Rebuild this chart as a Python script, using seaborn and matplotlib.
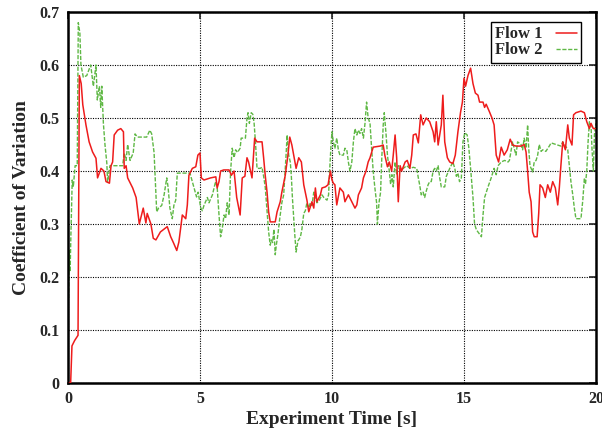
import numpy as np
import pandas as pd
import matplotlib
matplotlib.use("Agg")
import matplotlib.pyplot as plt
import seaborn as sns

flow1_t = [0.05,0.1,0.15,0.25,0.38,0.43,0.5,0.56,0.68,0.8,0.93,1.06,1.12,1.25,1.36,1.44,1.57,1.63,1.69,1.75,1.88,2.0,2.1,2.13,2.2,2.26,2.45,2.58,2.7,2.85,2.95,3.0,3.14,3.23,3.33,3.5,3.76,3.89,4.0,4.12,4.2,4.33,4.46,4.52,4.58,4.71,4.84,4.92,5.0,5.05,5.15,5.4,5.6,5.65,5.72,5.78,5.9,6.1,6.19,6.29,6.39,6.52,6.6,6.7,6.78,6.84,6.97,7.07,7.16,7.35,7.41,7.47,7.54,7.6,7.66,7.85,7.92,8.04,8.1,8.23,8.33,8.4,8.48,8.55,8.64,8.74,8.84,8.93,9.05,9.12,9.24,9.31,9.37,9.43,9.56,9.62,9.75,9.85,9.94,10.0,10.05,10.11,10.18,10.3,10.43,10.49,10.62,10.75,10.87,10.94,11.0,11.12,11.19,11.29,11.37,11.44,11.56,11.82,11.94,12.0,12.1,12.17,12.26,12.32,12.39,12.45,12.51,12.58,12.64,12.77,12.85,12.95,13.02,13.08,13.18,13.27,13.36,13.45,13.57,13.7,13.83,13.89,13.95,14.02,14.14,14.2,14.27,14.37,14.46,14.58,14.67,14.77,14.87,14.94,15.0,15.06,15.15,15.25,15.34,15.43,15.53,15.59,15.72,15.78,15.84,15.97,16.06,16.14,16.22,16.31,16.41,16.52,16.64,16.75,16.84,16.97,17.16,17.28,17.35,17.41,17.47,17.54,17.6,17.66,17.77,17.83,17.88,17.98,18.08,18.17,18.27,18.36,18.46,18.55,18.61,18.67,18.74,18.84,18.93,18.99,19.09,19.15,19.24,19.43,19.56,19.65,19.75,19.81,19.9,19.97]
flow1_v = [0.0,0.0,0.07,0.08,0.09,0.58,0.565,0.525,0.487,0.455,0.436,0.424,0.387,0.405,0.40,0.38,0.377,0.41,0.417,0.468,0.477,0.48,0.474,0.405,0.41,0.387,0.368,0.35,0.30,0.33,0.302,0.32,0.30,0.273,0.27,0.285,0.295,0.276,0.264,0.25,0.266,0.317,0.31,0.336,0.392,0.405,0.408,0.43,0.434,0.387,0.383,0.387,0.389,0.368,0.38,0.40,0.402,0.402,0.392,0.40,0.35,0.317,0.387,0.39,0.425,0.417,0.387,0.462,0.455,0.455,0.425,0.392,0.36,0.323,0.304,0.304,0.323,0.342,0.36,0.392,0.43,0.464,0.449,0.43,0.405,0.425,0.417,0.374,0.345,0.323,0.342,0.33,0.368,0.342,0.355,0.368,0.37,0.374,0.40,0.383,0.377,0.374,0.336,0.368,0.36,0.342,0.355,0.342,0.33,0.336,0.355,0.368,0.387,0.40,0.417,0.425,0.445,0.447,0.449,0.43,0.408,0.417,0.40,0.43,0.468,0.425,0.342,0.41,0.40,0.417,0.42,0.405,0.43,0.468,0.47,0.453,0.506,0.487,0.50,0.493,0.474,0.455,0.493,0.449,0.487,0.543,0.455,0.425,0.417,0.414,0.43,0.474,0.511,0.53,0.575,0.56,0.58,0.594,0.565,0.547,0.543,0.53,0.53,0.52,0.526,0.511,0.50,0.487,0.43,0.417,0.445,0.43,0.44,0.46,0.449,0.447,0.447,0.45,0.436,0.40,0.36,0.342,0.285,0.276,0.276,0.32,0.374,0.368,0.35,0.374,0.36,0.38,0.368,0.336,0.368,0.41,0.455,0.44,0.487,0.462,0.449,0.506,0.51,0.513,0.51,0.493,0.48,0.49,0.48,0.48]

flow2_t = [0.02,0.05,0.08,0.11,0.16,0.2,0.27,0.35,0.39,0.45,0.49,0.58,0.71,0.86,0.96,1.06,1.11,1.19,1.24,1.28,1.34,1.4,1.47,1.5,1.59,1.84,2.07,2.13,2.2,2.26,2.35,2.47,2.54,2.63,2.98,3.1,3.17,3.26,3.3,3.36,3.43,3.55,3.64,3.74,3.79,3.86,3.95,4.01,4.08,4.14,4.62,4.71,4.77,4.87,4.93,5.03,5.09,5.15,5.28,5.34,5.47,5.59,5.65,5.72,5.78,5.84,5.91,5.97,6.03,6.1,6.16,6.22,6.29,6.35,6.42,6.52,6.56,6.72,6.78,6.82,6.87,6.94,7.0,7.05,7.1,7.16,7.28,7.35,7.41,7.47,7.54,7.6,7.66,7.7,7.75,7.8,7.85,7.89,7.95,8.02,8.1,8.17,8.26,8.3,8.36,8.42,8.46,8.5,8.59,8.64,8.71,8.8,8.86,8.93,8.99,9.05,9.12,9.18,9.24,9.31,9.37,9.43,9.52,9.62,9.69,9.81,9.87,9.91,9.97,10.0,10.05,10.11,10.18,10.24,10.3,10.43,10.49,10.56,10.62,10.68,10.75,10.81,10.87,10.94,11.0,11.06,11.12,11.19,11.25,11.31,11.37,11.44,11.5,11.56,11.62,11.69,11.72,11.78,11.84,11.88,11.94,11.98,12.05,12.1,12.17,12.22,12.27,12.32,12.39,12.45,12.51,12.58,12.7,12.83,12.95,13.08,13.21,13.27,13.32,13.38,13.45,13.51,13.57,13.64,13.7,13.76,13.83,13.89,13.95,14.02,14.08,14.14,14.27,14.33,14.46,14.58,14.65,14.71,14.77,14.83,14.9,14.96,15.03,15.12,15.18,15.25,15.34,15.4,15.47,15.56,15.66,15.72,15.78,15.91,16.03,16.14,16.22,16.29,16.41,16.54,16.67,16.72,16.84,16.9,16.97,17.03,17.16,17.22,17.28,17.35,17.41,17.45,17.5,17.6,17.66,17.73,17.79,17.85,17.92,17.98,18.1,18.23,18.3,18.48,18.67,18.74,18.86,18.93,18.99,19.05,19.12,19.18,19.24,19.43,19.5,19.56,19.6,19.65,19.7,19.75,19.81,19.85,19.9,19.94,19.97,20.0]
flow2_v = [0.16,0.25,0.21,0.28,0.383,0.37,0.41,0.41,0.68,0.66,0.60,0.577,0.58,0.60,0.56,0.60,0.534,0.56,0.52,0.56,0.49,0.45,0.415,0.38,0.41,0.41,0.41,0.434,0.42,0.45,0.42,0.434,0.47,0.464,0.464,0.477,0.47,0.435,0.39,0.323,0.33,0.335,0.355,0.387,0.37,0.33,0.31,0.335,0.345,0.396,0.396,0.38,0.37,0.351,0.36,0.33,0.325,0.335,0.35,0.34,0.355,0.38,0.37,0.317,0.276,0.29,0.317,0.31,0.34,0.317,0.40,0.443,0.425,0.44,0.435,0.443,0.462,0.462,0.50,0.51,0.49,0.51,0.507,0.49,0.455,0.405,0.405,0.407,0.39,0.37,0.323,0.285,0.26,0.27,0.265,0.29,0.242,0.26,0.28,0.31,0.34,0.355,0.43,0.468,0.43,0.417,0.39,0.35,0.28,0.247,0.268,0.275,0.29,0.32,0.325,0.34,0.33,0.34,0.335,0.36,0.35,0.34,0.345,0.355,0.35,0.345,0.355,0.40,0.455,0.474,0.455,0.443,0.462,0.44,0.43,0.43,0.443,0.44,0.417,0.40,0.417,0.455,0.48,0.468,0.477,0.471,0.48,0.462,0.49,0.53,0.50,0.49,0.443,0.40,0.37,0.34,0.30,0.34,0.36,0.417,0.487,0.51,0.468,0.43,0.40,0.375,0.393,0.37,0.417,0.393,0.41,0.40,0.405,0.41,0.405,0.407,0.405,0.387,0.374,0.355,0.36,0.35,0.362,0.374,0.38,0.38,0.40,0.405,0.40,0.41,0.387,0.37,0.37,0.39,0.405,0.417,0.405,0.39,0.396,0.38,0.387,0.455,0.472,0.468,0.445,0.405,0.35,0.30,0.289,0.283,0.276,0.317,0.35,0.37,0.387,0.405,0.393,0.41,0.417,0.42,0.417,0.42,0.455,0.443,0.43,0.455,0.45,0.44,0.462,0.443,0.487,0.443,0.41,0.398,0.417,0.42,0.43,0.45,0.437,0.44,0.437,0.447,0.453,0.45,0.447,0.455,0.446,0.44,0.41,0.38,0.355,0.33,0.31,0.31,0.345,0.387,0.375,0.40,0.455,0.493,0.487,0.44,0.40,0.468,0.48,0.49]

x_ticks = [0, 5, 10, 15, 20]
y_ticks = [0, 0.1, 0.2, 0.3, 0.4, 0.5, 0.6, 0.7]
series_names = ["Flow 1", "Flow 2"]

sns.set_style("white")
plt.rcParams['font.family'] = ['Liberation Serif', 'DejaVu Serif']
plt.rcParams['font.weight'] = 'bold'

df1 = pd.DataFrame({"t": flow1_t, "v": flow1_v})
df2 = pd.DataFrame({"t": flow2_t, "v": flow2_v})

fig = plt.figure(figsize=(6.02, 4.34), dpi=100)
ax = fig.add_axes([68/602, 1-383/434, (596-68)/602, (383-12)/434])

sns.lineplot(data=df1, x="t", y="v", ax=ax, color="#ee1c1c", lw=1.1,
             estimator=None, sort=False, label=series_names[0], zorder=3)
sns.lineplot(data=df2, x="t", y="v", ax=ax, color="#5fb845", lw=1.0,
             estimator=None, sort=False, label=series_names[1], zorder=2)
ax.lines[1].set_dashes((3, 1.2))

ax.set_xlim(0, 20)
ax.set_ylim(0, 0.7)
ax.set_xticks(x_ticks)
ax.set_yticks(y_ticks)
ax.set_xticklabels([str(v) for v in x_ticks], fontsize=11.5, fontweight='bold')
ax.set_yticklabels(["0"] + [f"{v:.1f}" for v in y_ticks[1:]], fontsize=11.5, fontweight='bold')
ax.grid(True, color="black", linestyle=(0, (1, 1.2)), linewidth=0.8, zorder=0)
ax.set_axisbelow(True)
ax.tick_params(direction='in', length=5, width=1.2, top=True, right=True, pad=6)
for s in ax.spines.values():
    s.set_linewidth(1.8)
    s.set_color("black")
    s.set_visible(True)

ax.set_xlabel("Experiment Time [s]", fontsize=14, fontweight='bold', labelpad=3)
ax.set_ylabel("Coefficient of Variation", fontsize=14, fontweight='bold', labelpad=7)

leg = ax.legend(loc='upper right', bbox_to_anchor=(0.982, 0.986), markerfirst=False,
                frameon=True, fancybox=False, handlelength=1.3, handletextpad=0.8,
                borderpad=0.25, labelspacing=0.0, borderaxespad=0.3,
                prop={'family': ['Liberation Serif'], 'weight': 'bold', 'size': 12})
leg.get_frame().set_edgecolor("black")
leg.get_frame().set_linewidth(1.0)
leg.get_frame().set_alpha(1)

fig.savefig("out.png", dpi=100)
